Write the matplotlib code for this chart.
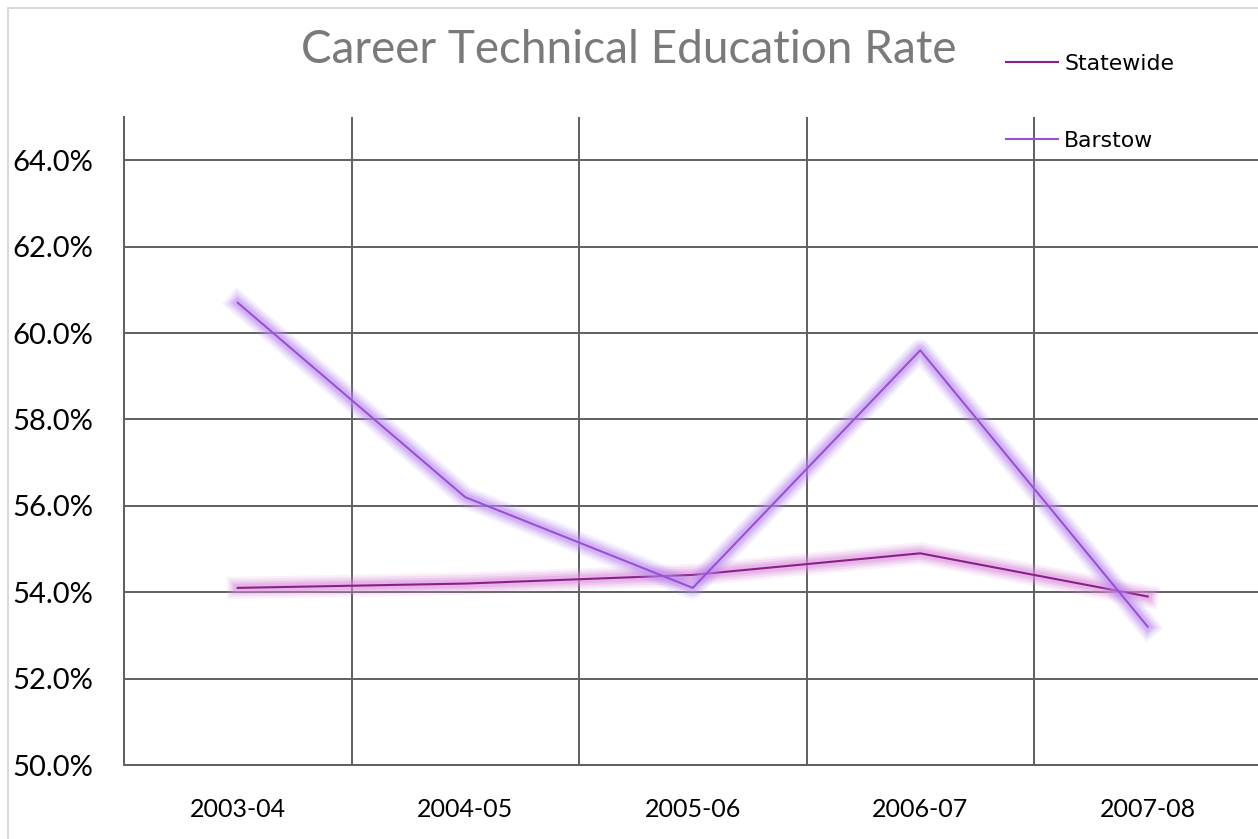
import matplotlib.pyplot as plt
import matplotlib.patheffects as pe
from matplotlib.lines import Line2D
from matplotlib.patches import Rectangle
from matplotlib.ticker import FuncFormatter, MultipleLocator

# data
years = ['2003-04', '2004-05', '2005-06', '2006-07', '2007-08']
statewide = [54.1, 54.2, 54.4, 54.9, 53.9]
barstow = [60.7, 56.2, 54.1, 59.6, 53.2]

W, H = 1258, 839
fig = plt.figure(figsize=(W / 100, H / 100), dpi=100)

# outer chart border (light gray, clipped at right/bottom like the source)
fig.patches.append(Rectangle((8 / W, -0.1), 1.2, 1 - 8 / H + 0.1, transform=fig.transFigure,
                             fill=False, edgecolor='#d9d9d9', linewidth=1.5, zorder=0))

left, bottom = 124 / W, 1 - 765 / H
ax = fig.add_axes([left, bottom, 1137.5 / W, (765 - 117) / H])


def soft_glow(color):
    # stacked translucent strokes -> soft halo around the line
    fx = [pe.Stroke(linewidth=w, foreground=color, alpha=a)
          for w, a in [(16, 0.12), (12.5, 0.18), (9, 0.25), (6, 0.32)]]
    return fx + [pe.Normal()]


x = list(range(len(years)))
ax.plot(x, statewide, color='#8a1f8a', lw=1.5, path_effects=soft_glow('#d98ad9'), zorder=3)
ax.plot(x, barstow, color='#9b4fd6', lw=1.5, path_effects=soft_glow('#b98af0'), zorder=4)

ax.set_xlim(-0.5, len(years) - 0.5)
ax.set_ylim(50, 65)
ax.yaxis.set_major_locator(MultipleLocator(2))
ax.yaxis.set_major_formatter(FuncFormatter(lambda v, p: f'{v:.1f}%'))
ax.set_xticks(x)
ax.set_xticklabels(years)
ax.set_xticks([i - 0.5 for i in range(len(years) + 1)], minor=True)

grid_c = '#5f5f5f'
ax.grid(False)
ax.yaxis.grid(True, which='major', color=grid_c, lw=1.4)
ax.xaxis.grid(True, which='minor', color=grid_c, lw=1.4)
for s in ['top', 'right']:
    ax.spines[s].set_visible(False)
for s in ['left', 'bottom']:
    ax.spines[s].set_color(grid_c)
    ax.spines[s].set_linewidth(1.4)
ax.tick_params(which='both', length=0)
ax.tick_params(axis='y', labelsize=21, pad=22, labelcolor='black')
ax.tick_params(axis='x', labelsize=18, pad=24, labelcolor='black')
for lab in ax.get_xticklabels() + ax.get_yticklabels():
    lab.set_family('Lato')

fig.text(0.5, 1 - 50 / H, 'Career Technical Education Rate', ha='center', va='center',
         fontsize=33, color='#7a7a7a', family='Lato')

handles = [Line2D([], [], color='#8a1f8a', lw=1.5), Line2D([], [], color='#9b4fd6', lw=1.5)]
fig.legend(handles, ['Statewide', 'Barstow'], loc='upper left',
           bbox_to_anchor=(1006 / W, 1 - 54 / H), bbox_transform=fig.transFigure,
           frameon=False, fontsize=15.8, handlelength=2.35, handletextpad=0.3,
           labelspacing=2.6, borderpad=0, borderaxespad=0)

fig.savefig('out.png', dpi=100)
